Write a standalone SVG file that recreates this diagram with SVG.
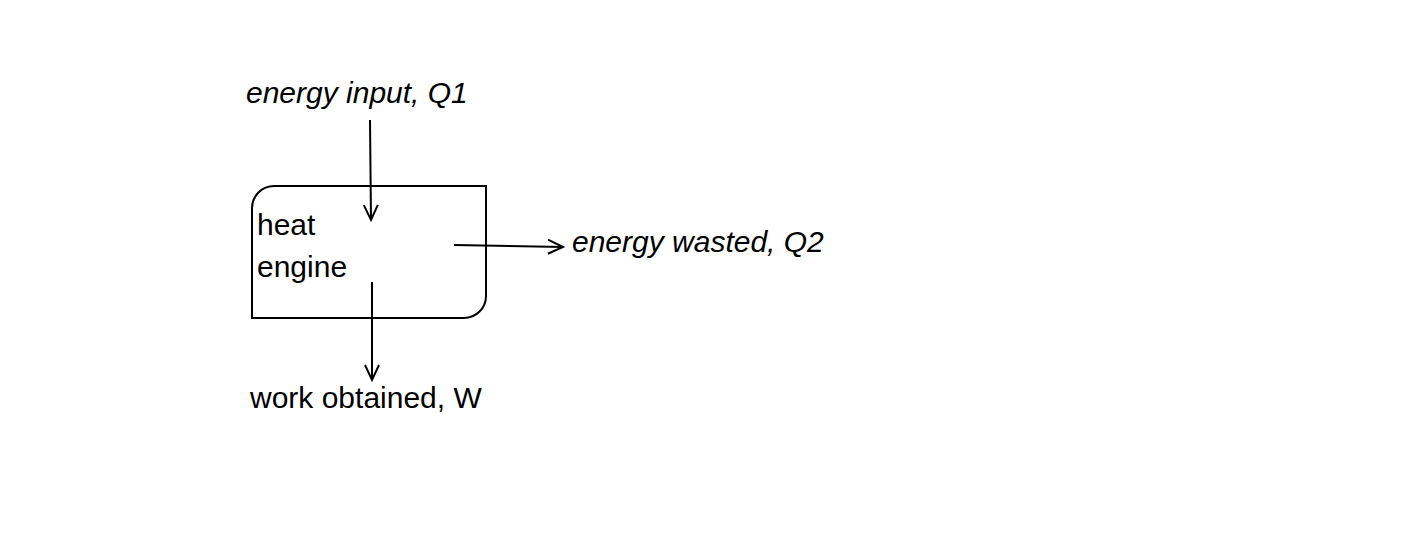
<svg xmlns="http://www.w3.org/2000/svg" width="1404" height="552" viewBox="0 0 1404 552">
<style>
text{font-family:"Liberation Sans",Arial,sans-serif;font-size:30px;fill:#000}
.it{font-style:italic}
.c{fill:none;stroke:#000;stroke-width:2}
</style>
<defs>
<marker id="a" markerWidth="20" markerHeight="20" refX="16" refY="8" orient="auto" markerUnits="userSpaceOnUse">
<path d="M1,1 L16,8 L1,15" fill="none" stroke="#000" stroke-width="2"/>
</marker>
</defs>
<rect width="1404" height="552" fill="#fff"/>
<g id="engine">
<path class="c" d="M274,186 H486 V296 A22,22 0 0 1 464,318 H252 V208 A22,22 0 0 1 274,186 Z"/>
<text x="257" y="235">heat</text>
<text x="257" y="277">engine</text>
</g>
<g id="input"><text class="it" x="246" y="103">energy input, Q1</text></g>
<g id="wasted"><text class="it" x="572" y="252">energy wasted, Q2</text></g>
<g id="work"><text x="250" y="408">work obtained, W</text></g>
<g id="connectors">
<path class="c" d="M370,120 L371,220" marker-end="url(#a)"/>
<path class="c" d="M372,282 L372,380" marker-end="url(#a)"/>
<path class="c" d="M454,245 L563,247" marker-end="url(#a)"/>
</g>
</svg>
